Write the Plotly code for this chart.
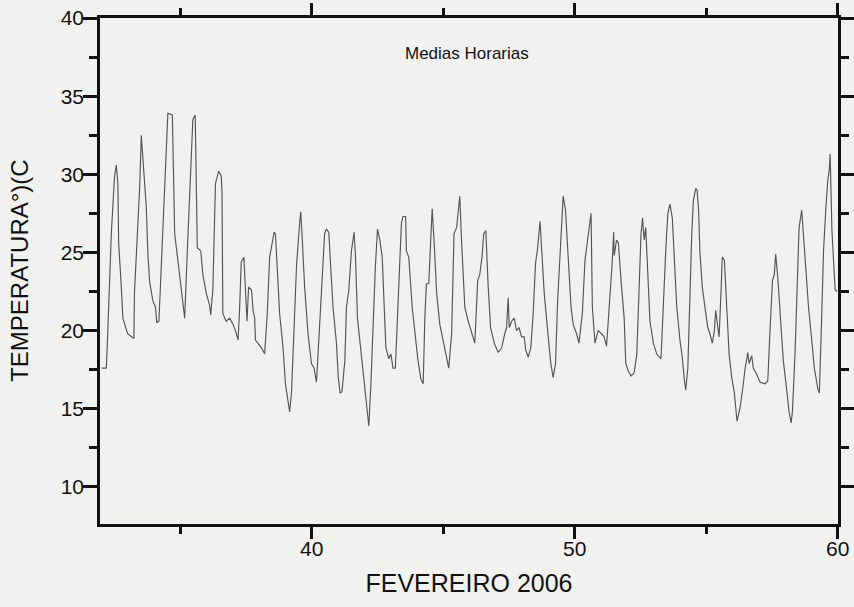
import plotly.graph_objects as go

# Hourly-mean air temperature, February 2006 (day of year on x)
day = [
    32.01, 32.19, 32.23, 32.31, 32.38, 32.50, 32.57, 32.63, 32.66, 32.76, 32.82,
    33.00, 33.14, 33.24, 33.26, 33.37, 33.46, 33.52, 33.58, 33.71, 33.77, 33.84, 33.96,
    34.06, 34.11, 34.19, 34.28, 34.41, 34.47, 34.53, 34.70, 34.74, 34.79, 34.91,
    35.04, 35.17, 35.27, 35.40, 35.48, 35.57, 35.61, 35.65, 35.78, 35.86, 35.99,
    36.12, 36.16, 36.24, 36.34, 36.46, 36.56, 36.59, 36.62, 36.75, 36.88,
    37.01, 37.10, 37.20, 37.26, 37.32, 37.42, 37.48, 37.54, 37.60, 37.71, 37.77, 37.83, 37.86, 37.96,
    38.09, 38.21, 38.31, 38.40, 38.49, 38.57, 38.62, 38.66, 38.78, 38.91,
    39.00, 39.16, 39.23, 39.33, 39.42, 39.51, 39.58, 39.63, 39.73, 39.86, 39.99,
    40.09, 40.18, 40.27, 40.39, 40.49, 40.56, 40.65, 40.72, 40.81, 40.94,
    41.01, 41.08, 41.15, 41.26, 41.32, 41.41, 41.51, 41.61, 41.66, 41.74, 41.83, 41.95,
    42.08, 42.17, 42.25, 42.33, 42.42, 42.50, 42.59, 42.68, 42.75, 42.82, 42.93,
    43.01, 43.09, 43.18, 43.26, 43.35, 43.41, 43.47, 43.57, 43.60, 43.69, 43.82, 43.92,
    44.04, 44.15, 44.24, 44.30, 44.36, 44.45, 44.53, 44.58, 44.65, 44.75, 44.87,
    45.00, 45.13, 45.21, 45.32, 45.41, 45.51, 45.63, 45.69, 45.76, 45.82, 45.95,
    46.08, 46.20, 46.31, 46.39, 46.48, 46.54, 46.62, 46.66, 46.71, 46.80, 46.94,
    47.09, 47.22, 47.34, 47.41, 47.47, 47.51, 47.60, 47.70, 47.79, 47.88, 47.98,
    48.08, 48.13, 48.23, 48.33, 48.42, 48.51, 48.59, 48.68, 48.76, 48.84, 48.97,
    49.09, 49.18, 49.27, 49.35, 49.44, 49.50, 49.56, 49.65, 49.75, 49.86, 49.94,
    50.07, 50.16, 50.29, 50.39, 50.49, 50.62, 50.64, 50.67, 50.77, 50.89,
    51.02, 51.12, 51.21, 51.34, 51.43, 51.48, 51.50, 51.59, 51.66, 51.78, 51.88, 51.94,
    52.04, 52.14, 52.26, 52.36, 52.44, 52.52, 52.58, 52.64, 52.70, 52.77, 52.86, 52.99,
    53.12, 53.28, 53.37, 53.46, 53.54, 53.62, 53.71, 53.79, 53.88,
    54.00, 54.09, 54.17, 54.22, 54.30, 54.38, 54.45, 54.51, 54.60, 54.65, 54.71, 54.76, 54.85, 54.95,
    55.06, 55.14, 55.23, 55.31, 55.36, 55.44, 55.49, 55.56, 55.61, 55.69, 55.78, 55.87, 55.97,
    56.07, 56.17, 56.29, 56.41, 56.48, 56.58, 56.63, 56.73, 56.79, 56.92,
    57.05, 57.24, 57.34, 57.43, 57.52, 57.59, 57.64, 57.72, 57.81, 57.93,
    58.06, 58.15, 58.23, 58.28, 58.38, 58.48, 58.53, 58.63, 58.70, 58.76, 58.89,
    59.01, 59.11, 59.24, 59.30, 59.37, 59.46, 59.55, 59.62, 59.68, 59.71, 59.78, 59.84, 59.90, 59.98,
]

temperature = [
    17.6, 17.6, 19.2, 23.0, 26.2, 29.8, 30.6, 29.4, 25.6, 22.8, 20.8,
    19.8, 19.6, 19.5, 22.4, 26.0, 29.2, 32.5, 30.9, 27.9, 24.9, 23.1, 21.9,
    21.5, 20.5, 20.6, 24.1, 29.4, 31.5, 33.9, 33.8, 31.1, 26.2, 24.5,
    22.8, 20.8, 25.1, 30.4, 33.5, 33.8, 30.4, 25.3, 25.1, 23.6, 22.4,
    21.6, 21.0, 22.6, 29.4, 30.2, 29.9, 28.8, 21.1, 20.6, 20.8,
    20.4, 20.0, 19.4, 21.5, 24.4, 24.7, 22.8, 20.6, 22.8, 22.6, 21.3, 20.8, 19.4, 19.2,
    18.9, 18.5, 21.1, 24.7, 25.6, 26.3, 26.2, 24.7, 21.1, 18.9,
    16.6, 14.8, 16.0, 20.2, 24.1, 26.2, 27.6, 26.2, 22.8, 19.8, 17.9,
    17.6, 16.7, 19.4, 23.2, 26.2, 26.5, 26.3, 24.1, 21.5, 19.2,
    17.0, 16.0, 16.1, 18.1, 21.5, 22.6, 25.1, 26.3, 24.9, 20.8, 19.4, 17.6,
    15.5, 13.9, 16.6, 20.8, 24.1, 26.5, 25.8, 24.7, 21.5, 18.9, 18.2,
    18.5, 17.6, 17.6, 20.8, 24.5, 26.9, 27.3, 27.3, 25.1, 24.7, 21.5, 20.0,
    18.1, 16.9, 16.6, 20.8, 23.0, 23.0, 26.0, 27.8, 25.8, 22.4, 20.4,
    19.4, 18.3, 17.6, 19.8, 26.2, 26.6, 28.6, 26.0, 23.0, 21.5, 20.6,
    19.8, 19.2, 23.2, 23.6, 24.8, 26.2, 26.4, 24.7, 22.8, 20.2, 19.2,
    18.6, 18.9, 19.8, 20.2, 22.1, 20.2, 20.6, 20.8, 20.0, 20.2, 19.6,
    19.6, 18.8, 18.3, 18.9, 21.1, 24.3, 25.3, 27.0, 24.9, 22.4, 20.0,
    17.9, 17.0, 17.9, 21.9, 25.1, 27.3, 28.6, 27.7, 25.1, 21.5, 20.4,
    19.8, 19.2, 21.1, 24.5, 25.8, 27.5, 25.2, 21.5, 19.2, 20.0,
    19.8, 19.6, 19.0, 21.9, 24.5, 26.3, 24.8, 25.8, 25.6, 22.8, 20.8, 17.9,
    17.4, 17.1, 17.3, 18.5, 22.8, 26.2, 27.2, 25.8, 26.6, 24.1, 20.6, 19.2,
    18.5, 18.2, 21.9, 25.1, 27.5, 28.1, 27.2, 24.1, 21.5,
    19.4, 18.3, 16.8, 16.2, 17.6, 23.0, 26.2, 28.3, 29.1, 29.0, 27.7, 25.0, 22.8, 21.5,
    20.2, 19.8, 19.2, 20.0, 21.3, 20.2, 19.6, 22.4, 24.7, 24.5, 21.5, 18.5, 17.0,
    16.0, 14.2, 15.1, 16.6, 17.6, 18.6, 17.9, 18.4, 17.6, 17.2,
    16.7, 16.6, 16.8, 20.2, 23.2, 23.6, 24.9, 23.4, 20.8, 18.1,
    16.2, 14.8, 14.1, 14.9, 18.7, 24.1, 26.6, 27.7, 26.0, 25.1, 21.5,
    19.4, 17.6, 16.3, 16.0, 19.8, 25.1, 27.9, 29.6, 30.3, 31.3, 26.4, 24.5, 22.6, 22.5,
]

x_ticks = [40, 50, 60]
y_ticks = [10, 15, 20, 25, 30, 35, 40]

assert len(day) == len(temperature)

paper = "#f1f1ef"
ink = "#111111"
font_family = "Liberation Sans, Arial, Helvetica, sans-serif"

fig = go.Figure(
    go.Scatter(
        x=day,
        y=temperature,
        mode="lines",
        line=dict(color="#555555", width=1.15),
        hoverinfo="skip",
    )
)

axis_common = dict(
    showgrid=False,
    zeroline=False,
    showline=True,
    linecolor=ink,
    linewidth=2.5,
    mirror="ticks",
    ticks="outside",
    tickcolor=ink,
    tickwidth=2.5,
    automargin=False,
    tickfont=dict(family=font_family, size=21, color=ink),
)

fig.update_xaxes(
    range=[31.95, 60.01],
    tickvals=x_ticks,
    ticklen=12,
    ticklabelstandoff=-8,
    minor=dict(dtick=5, tick0=0, ticklen=7, tickwidth=2.5, tickcolor=ink, ticks="outside"),
    title=dict(text="FEVEREIRO 2006", font=dict(family=font_family, size=25, color=ink), standoff=16),
    **axis_common,
)

fig.update_yaxes(
    range=[7.63, 40],
    tickvals=y_ticks,
    ticklen=14,
    ticklabelstandoff=-5,
    minor=dict(dtick=2.5, tick0=0, ticklen=8, tickwidth=2.5, tickcolor=ink, ticks="outside"),
    **axis_common,
)

fig.add_annotation(
    text="Medias Horarias",
    xref="paper", yref="paper",
    x=0.497, y=0.929,
    xanchor="center", yanchor="middle",
    showarrow=False,
    font=dict(family=font_family, size=17, color=ink),
)

fig.add_annotation(
    text="TEMPERATURA°)(C",
    xref="paper", yref="paper",
    x=-0.11, y=0.5,
    xanchor="center", yanchor="middle",
    textangle=-90,
    showarrow=False,
    font=dict(family=font_family, size=24, color=ink),
)

fig.update_layout(
    width=854,
    height=607,
    margin=dict(l=100, r=16, t=18, b=83),
    paper_bgcolor=paper,
    plot_bgcolor=paper,
    showlegend=False,
)

fig.write_html("out.html")
